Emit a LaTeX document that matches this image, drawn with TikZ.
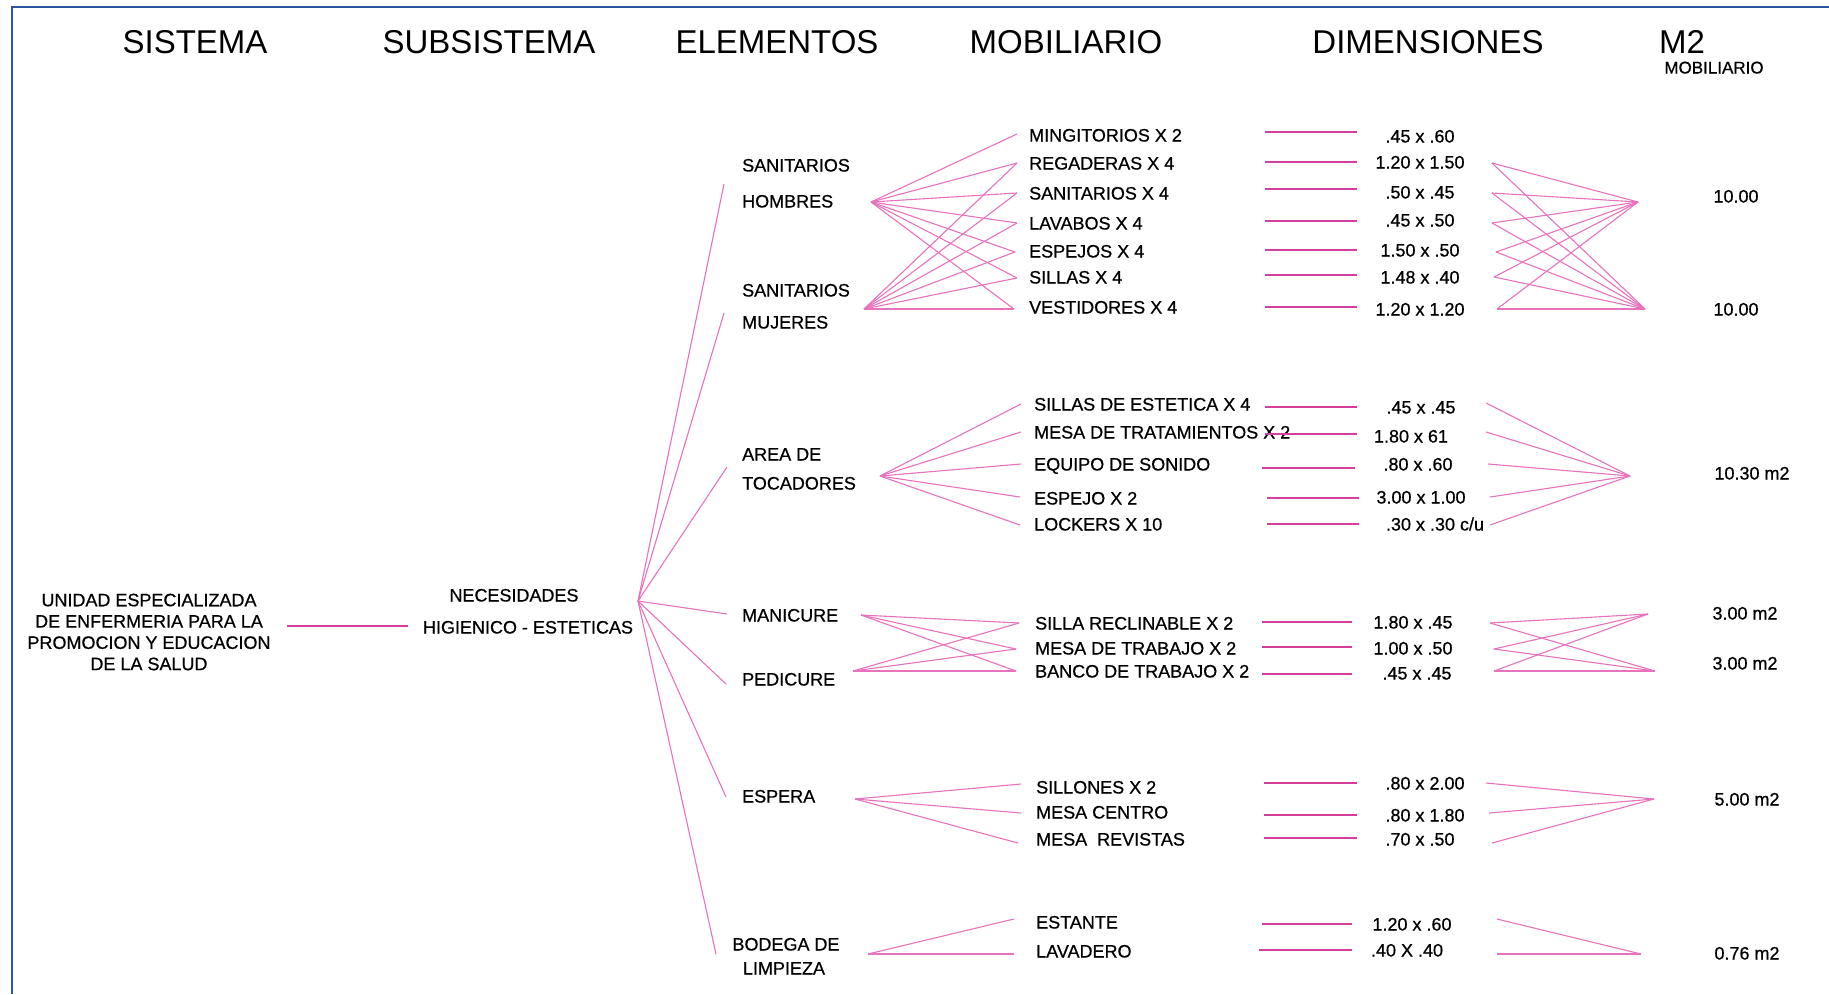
\documentclass[tikz,border=0pt]{standalone}
\usepackage{fontspec}
\setmainfont{Liberation Sans}
\newfontface\bodyface{Liberation Sans}[FakeBold=0.6]
\definecolor{frameblue}{RGB}{45,85,165}
\definecolor{tickpink}{RGB}{214,62,158}
\definecolor{fanpink}{RGB}{230,115,188}
\tikzset{
  head/.style={font=\fontsize{33}{40}\selectfont, inner sep=0pt},
  lbl/.style={font=\bodyface\fontsize{18}{21.3}\selectfont, inner sep=0pt, text height=13pt, text depth=0pt, anchor=west},
  val/.style={font=\bodyface\fontsize{18}{21.3}\selectfont, inner sep=0pt, text height=13pt, text depth=0pt, anchor=center},
  fan/.style={draw=fanpink, line width=1.1pt},
  tick/.style={draw=tickpink, line width=2.4pt},
}
\begin{document}
\begin{tikzpicture}[x=1pt,y=-1pt]
\useasboundingbox (0,0) rectangle (1829,994);
\fill[white] (0,0) rectangle (1829,994);
% frame
\draw[frameblue, line width=1.8pt] (12,994) -- (12,7) -- (1829,7);

% column headings
\node[head] (hS)   at (195,42)  {SISTEMA};
\node[head] (hSub) at (489,42)  {SUBSISTEMA};
\node[head] (hEl)  at (777,42)  {ELEMENTOS};
\node[head] (hMob) at (1066,42) {MOBILIARIO};
\node[head] (hDim) at (1428,42) {DIMENSIONES};
\node[head] (hM2)  at (1682,42) {M2};
\node[val]  (hM2s) at (1714,67) {\fontsize{17}{19}\selectfont MOBILIARIO};

% system and subsystem
\node[font=\bodyface\fontsize{18}{21.3}\selectfont, inner sep=0pt, align=center] (sys) at (149,632)
  {UNIDAD ESPECIALIZADA\\DE ENFERMERIA PARA LA\\PROMOCION Y EDUCACION\\DE LA SALUD};
\node[val] (sub1) at (514,595) {NECESIDADES};
\node[val] (sub2) at (528,627) {HIGIENICO - ESTETICAS};
\coordinate (sysR) at (287,626);
\coordinate (subL) at (408,626);
\draw[tick] (sysR) -- (subL);

% elements
\coordinate (F0) at (638,601);
\coordinate (eH)  at (724,184);
\coordinate (eM)  at (724,313);
\coordinate (eT)  at (727,467);
\coordinate (eMa) at (727,614);
\coordinate (eP)  at (726,684);
\coordinate (eE)  at (726,797);
\coordinate (eB)  at (716,954);
\foreach \e in {eH,eM,eT,eMa,eP,eE,eB} \draw[fan] (F0) -- (\e);

\node[lbl] (el1a) at (742,165) {SANITARIOS};
\node[lbl] (el1b) at (742,201) {HOMBRES};
\node[lbl] (el2a) at (742,290) {SANITARIOS};
\node[lbl] (el2b) at (742,322) {MUJERES};
\node[lbl] (el3a) at (742,454) {AREA DE};
\node[lbl] (el3b) at (742,483) {TOCADORES};
\node[lbl] (el4)  at (742,615) {MANICURE};
\node[lbl] (el5)  at (742,679) {PEDICURE};
\node[lbl] (el6)  at (742,796) {ESPERA};
\node[val] (el7a) at (786,944) {BODEGA DE};
\node[val] (el7b) at (784,968) {LIMPIEZA};

% ---------- sanitarios ----------
\coordinate (hubH)  at (871,202);
\coordinate (hubMu) at (864,309);
\coordinate (f11) at (1017,134);
\coordinate (f12) at (1017,163);
\coordinate (f13) at (1017,193);
\coordinate (f14) at (1017,223);
\coordinate (f15) at (1015,252);
\coordinate (f16) at (1017,278);
\coordinate (f17) at (1014,309);
\foreach \i in {1,...,7} \draw[fan] (hubH) -- (f1\i);
\foreach \i in {2,...,7} \draw[fan] (hubMu) -- (f1\i);
\node[lbl] (m11) at (1029,135) {MINGITORIOS X 2};
\node[lbl] (m12) at (1029,163) {REGADERAS X 4};
\node[lbl] (m13) at (1029,193) {SANITARIOS X 4};
\node[lbl] (m14) at (1029,223) {LAVABOS X 4};
\node[lbl] (m15) at (1029,251) {ESPEJOS X 4};
\node[lbl] (m16) at (1029,277) {SILLAS X 4};
\node[lbl] (m17) at (1029,307) {VESTIDORES X 4};
\foreach \i/\y in {1/132,2/162,3/189,4/221,5/250,6/275,7/307} {
  \coordinate (d1\i-a) at (1265,\y);
  \coordinate (d1\i-b) at (1357,\y);
  \draw[tick] (d1\i-a) -- (d1\i-b);
}
\node[val] (v11) at (1420,136) {.45 x .60};
\node[val] (v12) at (1420,162) {1.20 x 1.50};
\node[val] (v13) at (1420,192) {.50 x .45};
\node[val] (v14) at (1420,220) {.45 x .50};
\node[val] (v15) at (1420,250) {1.50 x .50};
\node[val] (v16) at (1420,277) {1.48 x .40};
\node[val] (v17) at (1420,309) {1.20 x 1.20};
\coordinate (r12) at (1492,163);
\coordinate (r13) at (1492,193);
\coordinate (r14) at (1492,223);
\coordinate (r15) at (1496,252);
\coordinate (r16) at (1494,277);
\coordinate (r17) at (1497,309);
\coordinate (s1a) at (1638,202);
\coordinate (s1b) at (1645,309);
\foreach \i in {2,...,7} {\draw[fan] (r1\i) -- (s1a); \draw[fan] (r1\i) -- (s1b);}
\node[val] (a1a) at (1736,196) {10.00};
\node[val] (a1b) at (1736,309) {10.00};

% ---------- tocadores ----------
\coordinate (hubT) at (880,476);
\coordinate (f21) at (1021,404);
\coordinate (f22) at (1021,432);
\coordinate (f23) at (1021,464);
\coordinate (f24) at (1020,497);
\coordinate (f25) at (1020,525);
\foreach \i in {1,...,5} \draw[fan] (hubT) -- (f2\i);
\node[lbl] (m21) at (1034,404) {SILLAS DE ESTETICA X 4};
\node[lbl] (m22) at (1034,432) {MESA DE TRATAMIENTOS X 2};
\node[lbl] (m23) at (1034,464) {EQUIPO DE SONIDO};
\node[lbl] (m24) at (1034,498) {ESPEJO X 2};
\node[lbl] (m25) at (1034,524) {LOCKERS X 10};
\foreach \i/\xa/\xb/\y in {1/1265/1357/407,2/1265/1357/434,3/1262/1355/468,4/1267/1359/498,5/1267/1359/524} {
  \coordinate (d2\i-a) at (\xa,\y);
  \coordinate (d2\i-b) at (\xb,\y);
  \draw[tick] (d2\i-a) -- (d2\i-b);
}
\node[val] (v21) at (1421,407) {.45 x .45};
\node[val] (v22) at (1411,436) {1.80 x 61};
\node[val] (v23) at (1418,464) {.80 x .60};
\node[val] (v24) at (1421,497) {3.00 x 1.00};
\node[val] (v25) at (1435,524) {.30 x .30 c/u};
\coordinate (r21) at (1486,403);
\coordinate (r22) at (1486,432);
\coordinate (r23) at (1488,464);
\coordinate (r24) at (1490,497);
\coordinate (r25) at (1490,525);
\coordinate (s2) at (1630,476);
\foreach \i in {1,...,5} \draw[fan] (r2\i) -- (s2);
\node[val] (a2) at (1752,473) {10.30 m2};

% ---------- manicure / pedicure ----------
\coordinate (hubMa) at (861,615);
\coordinate (hubPe) at (853,671);
\coordinate (f31) at (1019,623);
\coordinate (f32) at (1016,649);
\coordinate (f33) at (1016,671);
\foreach \i in {1,2,3} {\draw[fan] (hubMa) -- (f3\i); \draw[fan] (hubPe) -- (f3\i);}
\node[lbl] (m31) at (1035,623) {SILLA RECLINABLE X 2};
\node[lbl] (m32) at (1035,648) {MESA DE TRABAJO X 2};
\node[lbl] (m33) at (1035,671) {BANCO DE TRABAJO X 2};
\foreach \i/\y in {1/622,2/647,3/674} {
  \coordinate (d3\i-a) at (1262,\y);
  \coordinate (d3\i-b) at (1352,\y);
  \draw[tick] (d3\i-a) -- (d3\i-b);
}
\node[val] (v31) at (1413,622) {1.80 x .45};
\node[val] (v32) at (1413,648) {1.00 x .50};
\node[val] (v33) at (1417,673) {.45 x .45};
\coordinate (r31) at (1490,623);
\coordinate (r32) at (1494,649);
\coordinate (r33) at (1494,671);
\coordinate (s3a) at (1648,614);
\coordinate (s3b) at (1655,671);
\foreach \i in {1,2,3} {\draw[fan] (r3\i) -- (s3a); \draw[fan] (r3\i) -- (s3b);}
\node[val] (a3a) at (1745,613) {3.00 m2};
\node[val] (a3b) at (1745,663) {3.00 m2};

% ---------- espera ----------
\coordinate (hubEs) at (855,799);
\coordinate (f41) at (1021,784);
\coordinate (f42) at (1021,813);
\coordinate (f43) at (1018,843);
\foreach \i in {1,2,3} \draw[fan] (hubEs) -- (f4\i);
\node[lbl] (m41) at (1036,787) {SILLONES X 2};
\node[lbl] (m42) at (1036,812) {MESA CENTRO};
\node[lbl] (m43) at (1036,839) {MESA\ \ REVISTAS};
\foreach \i/\y in {1/783,2/815,3/838} {
  \coordinate (d4\i-a) at (1264,\y);
  \coordinate (d4\i-b) at (1357,\y);
  \draw[tick] (d4\i-a) -- (d4\i-b);
}
\node[val] (v41) at (1425,783) {.80 x 2.00};
\node[val] (v42) at (1425,815) {.80 x 1.80};
\node[val] (v43) at (1420,839) {.70 x .50};
\coordinate (r41) at (1486,783);
\coordinate (r42) at (1489,813);
\coordinate (r43) at (1492,843);
\coordinate (s4) at (1654,799);
\foreach \i in {1,2,3} \draw[fan] (r4\i) -- (s4);
\node[val] (a4) at (1747,799) {5.00 m2};

% ---------- bodega ----------
\coordinate (hubBo) at (868,954);
\coordinate (f51) at (1014,919);
\coordinate (f52) at (1014,954);
\foreach \i in {1,2} \draw[fan] (hubBo) -- (f5\i);
\node[lbl] (m51) at (1036,922) {ESTANTE};
\node[lbl] (m52) at (1036,951) {LAVADERO};
\foreach \i/\xa/\y in {1/1262/924,2/1259/950} {
  \coordinate (d5\i-a) at (\xa,\y);
  \coordinate (d5\i-b) at (1352,\y);
  \draw[tick] (d5\i-a) -- (d5\i-b);
}
\node[val] (v51) at (1412,924) {1.20 x .60};
\node[val] (v52) at (1407,950) {.40 X .40};
\coordinate (r51) at (1497,919);
\coordinate (r52) at (1497,954);
\coordinate (s5) at (1641,954);
\foreach \i in {1,2} \draw[fan] (r5\i) -- (s5);
\node[val] (a5) at (1747,953) {0.76 m2};
\end{tikzpicture}
\end{document}
